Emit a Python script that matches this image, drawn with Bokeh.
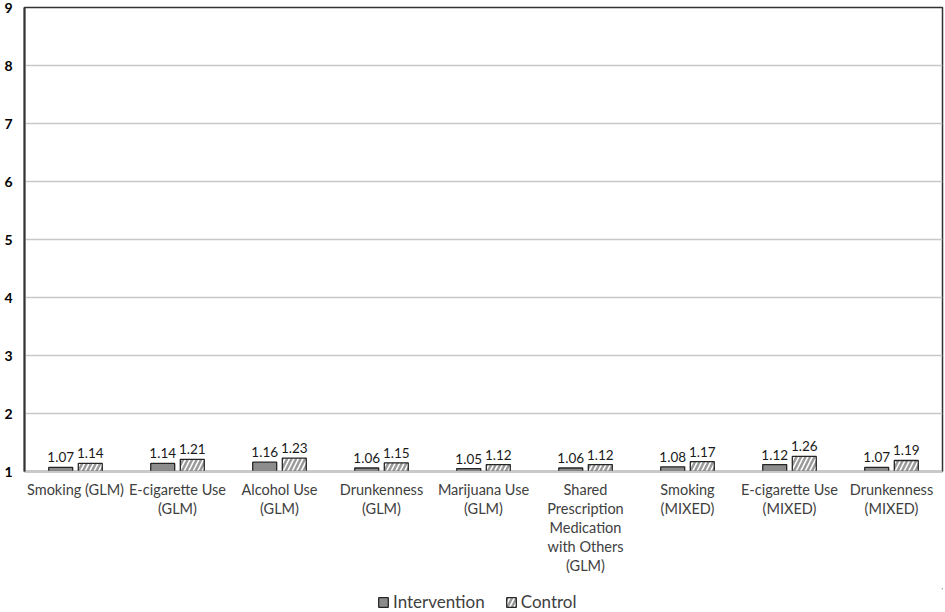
from bokeh.plotting import figure
from bokeh.layouts import column
from bokeh.models import FactorRange, ColumnDataSource, Legend, LegendItem, FixedTicker
from bokeh.transform import dodge
from bokeh.core.properties import value
from bokeh.embed import file_html
from bokeh.resources import INLINE

categories = [
    "Smoking (GLM)",
    "E-cigarette Use\n(GLM)",
    "Alcohol Use\n(GLM)",
    "Drunkenness\n(GLM)",
    "Marijuana Use\n(GLM)",
    "Shared\nPrescription\nMedication\nwith Others\n(GLM)",
    "Smoking\n(MIXED)",
    "E-cigarette Use\n(MIXED)",
    "Drunkenness\n(MIXED)",
]
intervention = [1.07, 1.14, 1.16, 1.06, 1.05, 1.06, 1.08, 1.12, 1.07]
control = [1.14, 1.21, 1.23, 1.15, 1.12, 1.12, 1.17, 1.26, 1.19]
y_ticks = [1, 2, 3, 4, 5, 6, 7, 8, 9]
series_names = ["Intervention", "Control"]

FONT = "Lato"
IV_STYLE = dict(fill_color="#8c8c8c", line_color="#262626", line_width=1.3)
CT_STYLE = dict(fill_color="white", line_color="#262626", line_width=1.3,
                hatch_pattern="/", hatch_color="#9a9a9a", hatch_scale=9, hatch_weight=2.5)

src = ColumnDataSource(dict(
    cat=categories,
    iv=intervention,
    ct=control,
    iv_lab=[f"{v:.2f}" for v in intervention],
    ct_lab=[f"{v:.2f}" for v in control],
))

W = 945
p = figure(
    x_range=FactorRange(factors=categories, range_padding=0),
    y_range=(1, 9),
    width=W, height=588,
    output_backend="svg", toolbar_location=None,
    min_border_left=24, min_border_right=3, min_border_top=7, min_border_bottom=117,
)
p.background_fill_color = "white"
p.border_fill_color = "white"
p.outline_line_color = "#333333"
p.outline_line_width = 1.5

p.vbar(x=dodge("cat", -0.145, range=p.x_range), top="iv", bottom=1, width=0.235,
       source=src, **IV_STYLE)
p.vbar(x=dodge("cat", 0.145, range=p.x_range), top="ct", bottom=1, width=0.235,
       source=src, **CT_STYLE)

p.text(x=dodge("cat", -0.145, range=p.x_range), y="iv", text="iv_lab", source=src,
       text_align="center", text_baseline="bottom", y_offset=-5,
       text_font=value(FONT), text_font_size="13.5px", text_color="#1a1a1a")
p.text(x=dodge("cat", 0.145, range=p.x_range), y="ct", text="ct_lab", source=src,
       text_align="center", text_baseline="bottom", y_offset=-5,
       text_font=value(FONT), text_font_size="13.5px", text_color="#1a1a1a")

# axes
p.yaxis.ticker = FixedTicker(ticks=y_ticks)
p.yaxis.major_tick_line_color = None
p.yaxis.minor_tick_line_color = None
p.yaxis.axis_line_color = "#333333"
p.yaxis.axis_line_width = 2
p.yaxis.major_label_text_font = FONT
p.yaxis.major_label_text_font_style = "bold"
p.yaxis.major_label_text_font_size = "14px"
p.yaxis.major_label_text_color = "black"
p.yaxis.major_label_standoff = 6

p.xaxis.major_tick_line_color = None
p.xaxis.minor_tick_line_color = None
p.xaxis.axis_line_color = "#c8c8c8"
p.xaxis.axis_line_width = 1.5
p.xaxis.major_label_text_font = FONT
p.xaxis.major_label_text_font_size = "14.5px"
p.xaxis.major_label_text_color = "#404040"
p.xaxis.major_label_text_line_height = 1.13
p.xaxis.major_label_standoff = 3
p.xaxis.major_label_orientation = "horizontal"

p.xgrid.grid_line_color = None
p.ygrid.grid_line_color = "#c8c8c8"
p.ygrid.grid_line_width = 1.5

# legend row (separate strip below the chart); its bars sit outside its range
lg = figure(width=W, height=24, x_range=(0, 1), y_range=(0, 1),
            output_backend="svg", toolbar_location=None,
            min_border_left=0, min_border_right=0, min_border_top=0, min_border_bottom=0)
lg.axis.visible = False
lg.grid.visible = False
lg.outline_line_color = None
hidden = ColumnDataSource(dict(x=[5.0], top=[5.0]))
l_iv = lg.vbar(x="x", top="top", bottom=4.0, width=0.1, source=hidden, **IV_STYLE)
l_ct = lg.vbar(x="x", top="top", bottom=4.0, width=0.1, source=hidden, **CT_STYLE)
legend = Legend(items=[LegendItem(label=series_names[0], renderers=[l_iv]),
                       LegendItem(label=series_names[1], renderers=[l_ct])],
                orientation="horizontal", location=(353, 0))
legend.label_text_font = FONT
legend.label_text_font_size = "17px"
legend.label_text_color = "#404040"
legend.glyph_width = 12
legend.glyph_height = 12
legend.spacing = 20
legend.label_standoff = 4
legend.border_line_color = None
legend.background_fill_alpha = 0
legend.padding = 0
legend.margin = 0
lg.add_layout(legend)

layout = column(p, lg, spacing=0)
open("out.html", "w").write(file_html(layout, INLINE))
